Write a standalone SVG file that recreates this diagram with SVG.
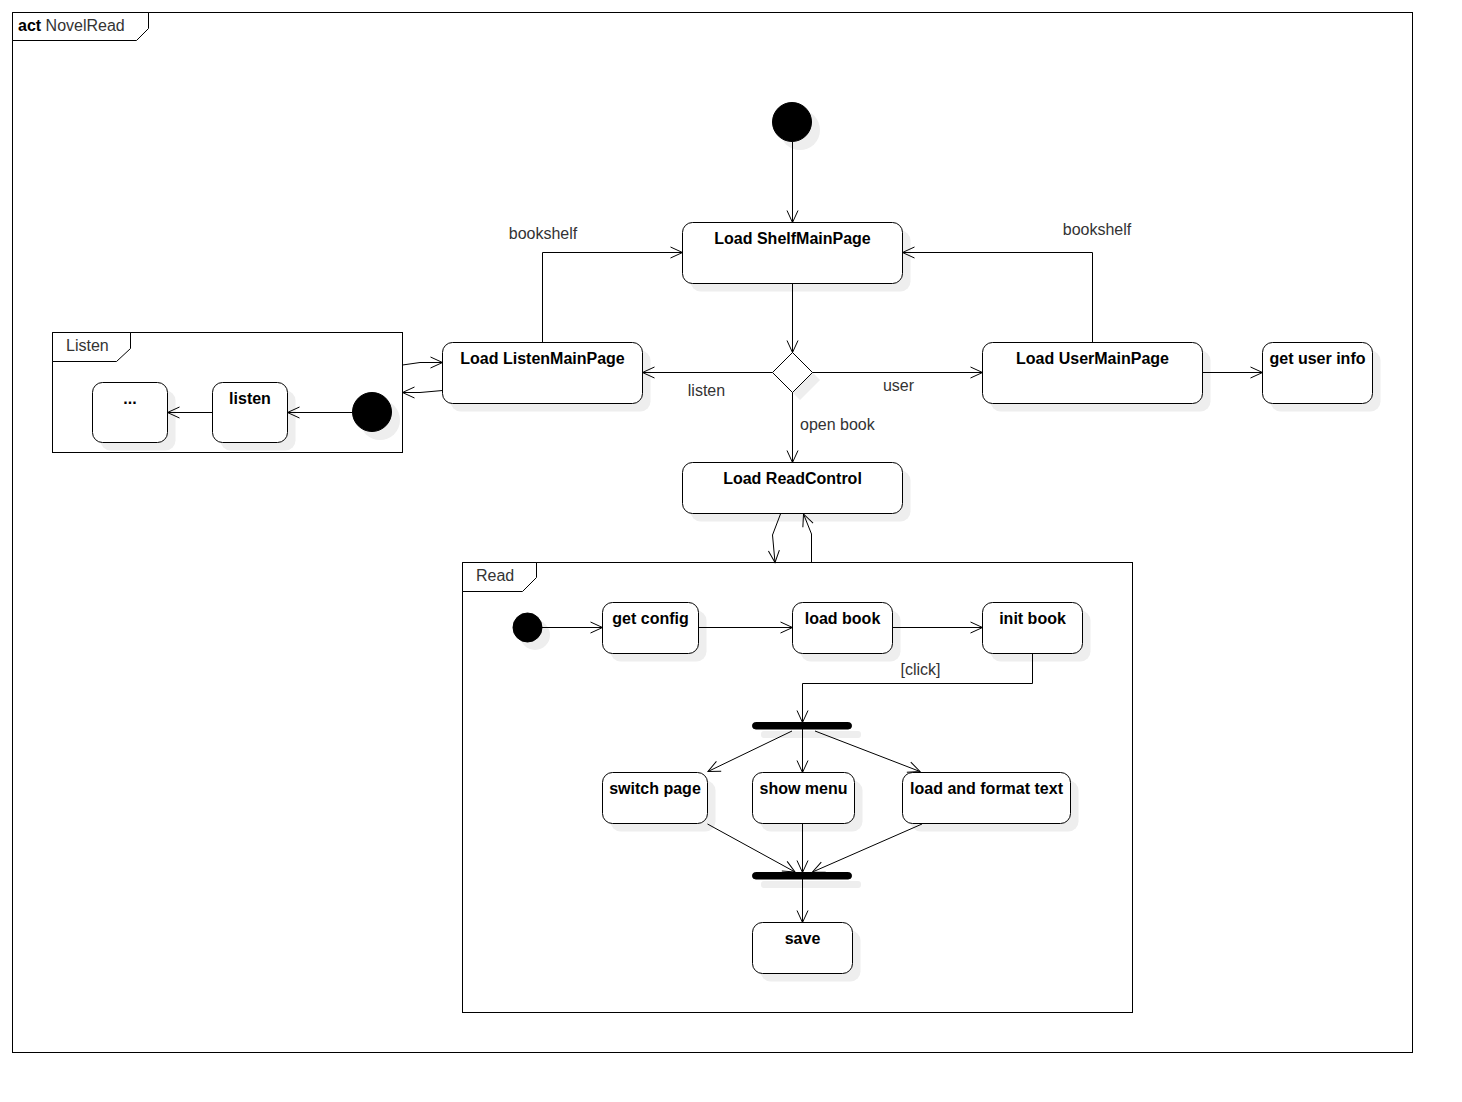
<svg xmlns="http://www.w3.org/2000/svg" width="1462" height="1102" viewBox="0 0 1462 1102">
  <style>
    .frame { fill: none; stroke: #000; stroke-width: 1; }
    .tab { fill: #fff; stroke: #000; stroke-width: 1; }
    .node { fill: #fff; stroke: #000; stroke-width: 1; }
    .shadow { fill: #eeeeee; stroke: none; }
    .dot { fill: #000; stroke: #000; }
    .edge { fill: none; stroke: #000; stroke-width: 1; }
    .label { font-family: "Liberation Sans", Arial, sans-serif; font-size: 16px; font-weight: bold; fill: #000; text-anchor: middle; }
    .elabel { font-family: "Liberation Sans", Arial, sans-serif; font-size: 16px; fill: #333; }
    .ftitle { font-family: "Liberation Sans", Arial, sans-serif; font-size: 16px; fill: #333; }
  </style>
  <defs>
    <marker id="open" markerUnits="userSpaceOnUse" markerWidth="16" markerHeight="14" refX="13" refY="6" orient="auto" overflow="visible">
      <path d="M1,0.5 L13,6 L1,11.5" fill="none" stroke="#000" stroke-width="1"/>
    </marker>
  </defs>

  <rect width="1462" height="1102" fill="#fff"/>

  <!-- outer activity frame -->
  <g id="frame-novelread">
    <rect class="frame" x="12.5" y="12.5" width="1400" height="1040"/>
    <path class="tab" d="M12.5,12.5 H148.5 V28.5 L136.5,40.5 H12.5 Z"/>
    <text x="18" y="31" class="ftitle"><tspan font-weight="bold" fill="#000">act</tspan> NovelRead</text>
  </g>

  <!-- Listen region -->
  <g id="frame-listen">
    <rect class="frame" x="52.5" y="332.5" width="350" height="120"/>
    <path class="tab" d="M52.5,332.5 H130.5 V348.5 L116.5,361.5 H52.5 Z"/>
    <text x="66" y="351" class="ftitle">Listen</text>
  </g>

  <!-- Read region -->
  <g id="frame-read">
    <rect class="frame" x="462.5" y="562.5" width="670" height="450"/>
    <path class="tab" d="M462.5,562.5 H536.5 V577.5 L522.5,591.5 H462.5 Z"/>
    <text x="476" y="581" class="ftitle">Read</text>
  </g>

  <!-- top-level nodes -->
  <g id="start">
    <circle class="shadow" cx="800" cy="130" r="20"/>
    <circle class="dot" cx="792" cy="122" r="19.5"/>
  </g>

  <g id="load-shelf">
    <rect class="shadow" x="690.5" y="230.5" width="220" height="61" rx="10"/>
    <rect class="node" x="682.5" y="222.5" width="220" height="61" rx="10"/>
    <text class="label" x="792.5" y="244">Load ShelfMainPage</text>
  </g>

  <g id="decision">
    <path class="shadow" d="M800,360 L820,380 L800,400 L780,380 Z"/>
    <path class="node" d="M792.5,352.5 L812.5,372.5 L792.5,392.5 L772.5,372.5 Z"/>
  </g>

  <g id="load-listen">
    <rect class="shadow" x="450.5" y="350.5" width="200" height="61" rx="10"/>
    <rect class="node" x="442.5" y="342.5" width="200" height="61" rx="10"/>
    <text class="label" x="542.5" y="364">Load ListenMainPage</text>
  </g>

  <g id="load-user">
    <rect class="shadow" x="990.5" y="350.5" width="220" height="61" rx="10"/>
    <rect class="node" x="982.5" y="342.5" width="220" height="61" rx="10"/>
    <text class="label" x="1092.5" y="364">Load UserMainPage</text>
  </g>

  <g id="get-user-info">
    <rect class="shadow" x="1270.5" y="350.5" width="110" height="61" rx="10"/>
    <rect class="node" x="1262.5" y="342.5" width="110" height="61" rx="10"/>
    <text class="label" x="1317.5" y="364">get user info</text>
  </g>

  <g id="load-readcontrol">
    <rect class="shadow" x="690.5" y="470.5" width="220" height="51" rx="10"/>
    <rect class="node" x="682.5" y="462.5" width="220" height="51" rx="10"/>
    <text class="label" x="792.5" y="484">Load ReadControl</text>
  </g>

  <!-- Listen region nodes -->
  <g id="listen-start">
    <circle class="shadow" cx="380" cy="420" r="20"/>
    <circle class="dot" cx="372" cy="412" r="19.5"/>
  </g>

  <g id="listen">
    <rect class="shadow" x="220.5" y="390.5" width="75" height="60" rx="10"/>
    <rect class="node" x="212.5" y="382.5" width="75" height="60" rx="10"/>
    <text class="label" x="250" y="404">listen</text>
  </g>

  <g id="listen-more">
    <rect class="shadow" x="100.5" y="390.5" width="75" height="60" rx="10"/>
    <rect class="node" x="92.5" y="382.5" width="75" height="60" rx="10"/>
    <text class="label" x="130" y="404">...</text>
  </g>

  <!-- Read region nodes -->
  <g id="read-start">
    <circle class="shadow" cx="535" cy="635" r="15"/>
    <circle class="dot" cx="527.5" cy="627.5" r="14.5"/>
  </g>

  <g id="get-config">
    <rect class="shadow" x="610.5" y="610.5" width="96" height="51" rx="10"/>
    <rect class="node" x="602.5" y="602.5" width="96" height="51" rx="10"/>
    <text class="label" x="650.5" y="624">get config</text>
  </g>

  <g id="load-book">
    <rect class="shadow" x="800.5" y="610.5" width="100" height="51" rx="10"/>
    <rect class="node" x="792.5" y="602.5" width="100" height="51" rx="10"/>
    <text class="label" x="842.5" y="624">load book</text>
  </g>

  <g id="init-book">
    <rect class="shadow" x="990.5" y="610.5" width="100" height="51" rx="10"/>
    <rect class="node" x="982.5" y="602.5" width="100" height="51" rx="10"/>
    <text class="label" x="1032.5" y="624">init book</text>
  </g>

  <g id="fork">
    <rect class="shadow" x="761" y="731" width="100" height="7" rx="3"/>
    <rect class="dot" x="752.5" y="722.5" width="99" height="6.5" rx="3.25" stroke="none"/>
  </g>

  <g id="switch-page">
    <rect class="shadow" x="610.5" y="780.5" width="105" height="51" rx="10"/>
    <rect class="node" x="602.5" y="772.5" width="105" height="51" rx="10"/>
    <text class="label" x="655" y="794">switch page</text>
  </g>

  <g id="show-menu">
    <rect class="shadow" x="760.5" y="780.5" width="102" height="51" rx="10"/>
    <rect class="node" x="752.5" y="772.5" width="102" height="51" rx="10"/>
    <text class="label" x="803.5" y="794">show menu</text>
  </g>

  <g id="load-format-text">
    <rect class="shadow" x="910.5" y="780.5" width="168" height="51" rx="10"/>
    <rect class="node" x="902.5" y="772.5" width="168" height="51" rx="10"/>
    <text class="label" x="986.5" y="794">load and format text</text>
  </g>

  <g id="join">
    <rect class="shadow" x="761" y="881" width="100" height="7" rx="3"/>
    <rect class="dot" x="752.5" y="872.5" width="99" height="6.5" rx="3.25" stroke="none"/>
  </g>

  <g id="save">
    <rect class="shadow" x="760.5" y="930.5" width="100" height="51" rx="10"/>
    <rect class="node" x="752.5" y="922.5" width="100" height="51" rx="10"/>
    <text class="label" x="802.5" y="944">save</text>
  </g>

  <!-- connectors -->
  <g id="connectors">
    <path class="edge" marker-end="url(#open)" d="M792.5,142 V222.5"/>
    <path class="edge" marker-end="url(#open)" d="M792.5,283.5 V352.5"/>
    <path class="edge" marker-end="url(#open)" d="M772.5,372.5 H642.5"/>
    <path class="edge" marker-end="url(#open)" d="M812.5,372.5 H982.5"/>
    <path class="edge" marker-end="url(#open)" d="M792.5,392.5 V462.5"/>
    <path class="edge" marker-end="url(#open)" d="M542.5,342.5 V252.5 H682.5"/>
    <path class="edge" marker-end="url(#open)" d="M1092.5,342.5 V252.5 H902.5"/>
    <path class="edge" marker-end="url(#open)" d="M1202.5,372.5 H1262.5"/>

    <!-- Listen region in/out -->
    <path class="edge" marker-end="url(#open)" d="M402.5,365 L420,362.5 H442.5"/>
    <path class="edge" marker-end="url(#open)" d="M442.5,390.5 L420,392.5 H402.5"/>
    <path class="edge" marker-end="url(#open)" d="M352,412.5 H287.5"/>
    <path class="edge" marker-end="url(#open)" d="M212.5,412.5 H167.5"/>

    <!-- Read region in/out -->
    <path class="edge" marker-end="url(#open)" d="M780.5,514 L772.5,535 L775,562.5"/>
    <path class="edge" marker-end="url(#open)" d="M811.5,562.5 V534 L803.5,514"/>

    <!-- Read region flow -->
    <path class="edge" marker-end="url(#open)" d="M542,627.5 H602.5"/>
    <path class="edge" marker-end="url(#open)" d="M698.5,627.5 H792.5"/>
    <path class="edge" marker-end="url(#open)" d="M892.5,627.5 H982.5"/>
    <path class="edge" marker-end="url(#open)" d="M1032.5,653.5 V683.5 H802.5 V722.5"/>
    <path class="edge" marker-end="url(#open)" d="M792,731 L708,771.5"/>
    <path class="edge" marker-end="url(#open)" d="M802.5,729 V772.5"/>
    <path class="edge" marker-end="url(#open)" d="M815,731 L920,771.5"/>
    <path class="edge" marker-end="url(#open)" d="M707.5,824 L795,872"/>
    <path class="edge" marker-end="url(#open)" d="M802.5,823.5 V872.5"/>
    <path class="edge" marker-end="url(#open)" d="M922,824 L812.5,872"/>
    <path class="edge" marker-end="url(#open)" d="M802.5,879 V922.5"/>

    <!-- connector labels -->
    <text class="elabel" x="543" y="239" text-anchor="middle">bookshelf</text>
    <text class="elabel" x="1097" y="235" text-anchor="middle">bookshelf</text>
    <text class="elabel" x="706.5" y="396" text-anchor="middle">listen</text>
    <text class="elabel" x="898.5" y="391" text-anchor="middle">user</text>
    <text class="elabel" x="800" y="430">open book</text>
    <text class="elabel" x="920.5" y="675" text-anchor="middle">[click]</text>
  </g>
</svg>
